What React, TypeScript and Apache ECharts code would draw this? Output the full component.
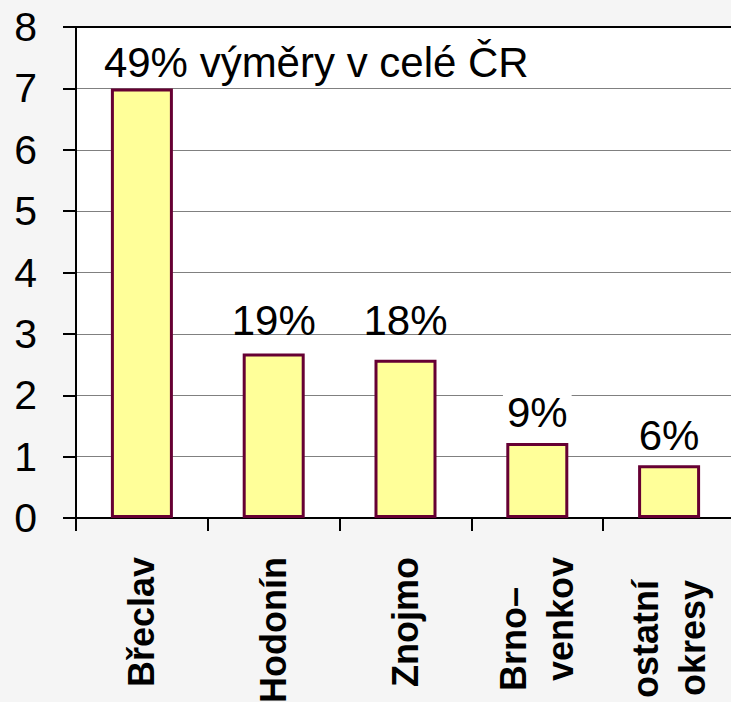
import { useEffect, useRef } from 'react';
import * as echarts from 'echarts';

const categories = ['Břeclav', 'Hodonín', 'Znojmo', 'Brno–\nvenkov', 'ostatní\nokresy'];
const values = [7.0, 2.68, 2.58, 1.22, 0.86];
const shareLabels = ['49% výměry v celé ČR', '19%', '18%', '9%', '6%'];
const yMin = 0;
const yMax = 8;
const yInterval = 1;

const FONT = "'Liberation Sans', Arial, sans-serif";

export default function App() {
  const ref = useRef<HTMLDivElement>(null);

  useEffect(() => {
    document.body.style.margin = '0';
    if (!ref.current) return;
    const chart = echarts.init(ref.current, null, { renderer: 'svg' });

    const labelDistance = [5, 12.5, 18.5, 9.5, 8.5];

    const seriesData = values.map((v, i) => {
      const label: any = {
        show: true,
        position: 'top',
        formatter: shareLabels[i],
        distance: labelDistance[i],
      };
      if (i === 0) {
        label.align = 'left';
        label.offset = [-38, 0];
      }
      if (i === 3) {
        label.backgroundColor = '#ffffff';
        label.padding = [2, 4, 0, 4];
      }
      return { value: v, label };
    });

    const xData = categories.map((c) => {
      if (c.startsWith('ostatní')) {
        return { value: c, textStyle: { padding: [0, 23, 0, 0] } };
      }
      return c;
    });

    chart.setOption({
      animation: false,
      backgroundColor: '#f5f5f5',
      grid: {
        left: 76,
        top: 27,
        right: -4,
        bottom: 184,
        show: true,
        backgroundColor: '#ffffff',
        borderWidth: 0,
        containLabel: false,
        outerBoundsMode: 'none',
      },
      xAxis: [
        {
          type: 'category',
          data: xData,
          boundaryGap: true,
          axisLine: { show: true, lineStyle: { color: '#000', width: 2 } },
          axisTick: { show: true, length: 13, lineStyle: { color: '#000', width: 2 } },
          axisLabel: {
            rotate: 90,
            margin: 39,
            interval: 0,
            color: '#000',
            fontFamily: FONT,
            fontWeight: 'bold',
            fontSize: 36,
            lineHeight: 47,
            formatter: (v: string) => {
              const lines = v.split('\n');
              if (lines[0].startsWith('Brno')) {
                return lines[0] + '\u00a0\u00a0\u00a0\n' + lines[1];
              }
              return v;
            },
          },
          splitLine: { show: false },
        },
        {
          type: 'category',
          position: 'top',
          data: categories,
          axisLine: { show: true, lineStyle: { color: '#000', width: 2 } },
          axisTick: { show: false },
          axisLabel: { show: false },
        },
      ],
      yAxis: {
        type: 'value',
        min: yMin,
        max: yMax,
        interval: yInterval,
        axisLine: { show: true, lineStyle: { color: '#000', width: 2 } },
        axisTick: { show: true, length: 13, lineStyle: { color: '#000', width: 2 } },
        axisLabel: {
          margin: 39,
          color: '#000',
          fontFamily: FONT,
          fontSize: 41,
        },
        splitLine: { show: true, lineStyle: { color: '#808080', width: 1 } },
      },
      series: [
        {
          type: 'bar',
          xAxisIndex: 0,
          data: seriesData,
          barWidth: 62,
          itemStyle: {
            color: '#ffff99',
            borderColor: '#660033',
            borderWidth: 3,
          },
          label: {
            show: true,
            color: '#000',
            fontFamily: FONT,
            fontSize: 42,
          },
        },
      ],
    });

    return () => chart.dispose();
  }, []);

  return (
    <div
      ref={ref}
      style={{ position: 'absolute', left: 0, top: 0, width: 731, height: 702 }}
    />
  );
}
